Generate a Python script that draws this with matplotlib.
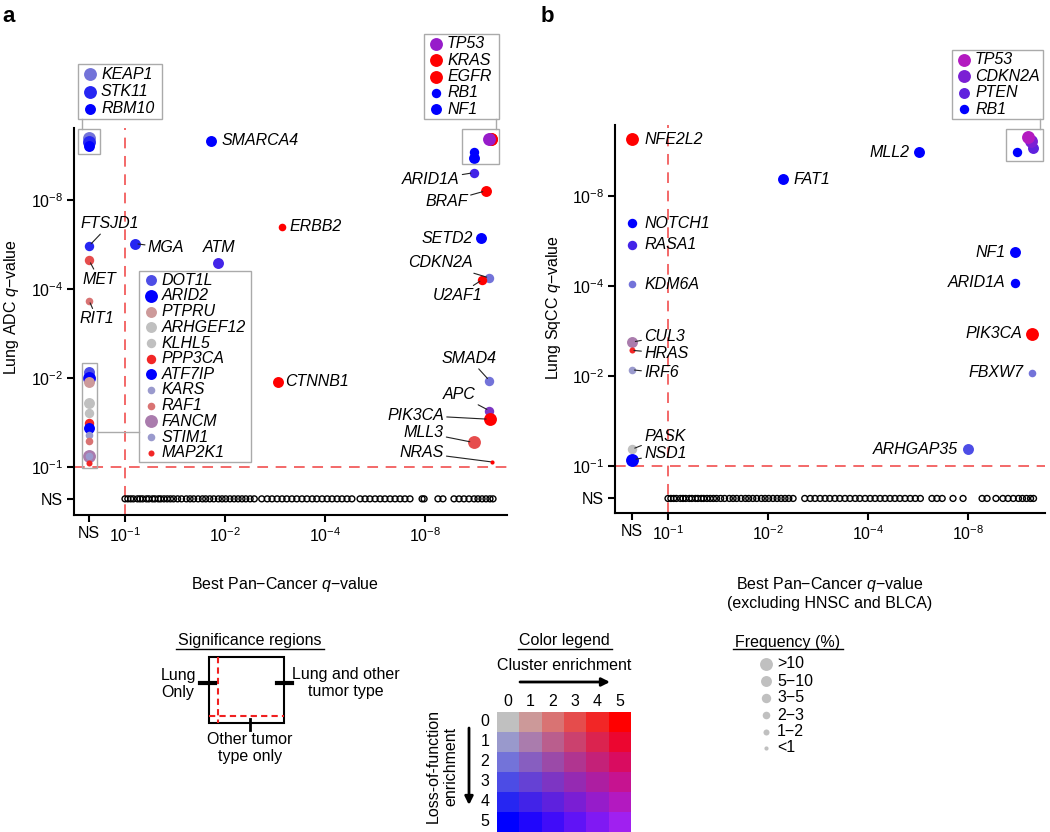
import numpy as np
import matplotlib
matplotlib.use('Agg')
import matplotlib.pyplot as plt
from matplotlib.patches import Rectangle
from matplotlib.ticker import NullLocator

plt.rcParams['font.family'] = ['Liberation Sans', 'DejaVu Sans']
plt.rcParams['mathtext.fontset'] = 'custom'
plt.rcParams['mathtext.rm'] = 'Liberation Sans'
plt.rcParams['mathtext.it'] = 'Liberation Sans:italic'
plt.rcParams['mathtext.bf'] = 'Liberation Sans:bold'

# values are -log10(q); NS = not significant (drawn left of / below 10^-1)
NS = 0.78

# ---- panel a : lung adenocarcinoma ----
a_gene = ['KEAP1', 'STK11', 'RBM10', 'SMARCA4', 'KRAS', 'EGFR', 'TP53', 'RB1', 'NF1',
          'ARID1A', 'BRAF', 'ERBB2', 'FTSJD1', 'MGA', 'SETD2', 'MET', 'ATM', 'CDKN2A',
          'U2AF1', 'RIT1', 'CTNNB1', 'SMAD4', 'APC', 'PIK3CA', 'MLL3', 'NRAS',
          'DOT1L', 'ARID2', 'PTPRU', 'ARHGEF12', 'KLHL5', 'PPP3CA', 'ATF7IP', 'KARS',
          'RAF1', 'FANCM', 'STIM1', 'MAP2K1']
a_x = [NS, NS, NS, 1.82, 12.6, 12.6, 12.5, 11.2, 11.2,
       11.2, 12.2, 2.97, NS, 1.07, 11.8, NS, 1.9, 12.5,
       11.9, NS, 2.89, 12.5, 12.5, 12.55, 11.2, 12.7,
       NS, NS, NS, NS, NS, NS, NS, NS, NS, NS, NS, NS]
a_y = [13.0, 12.6, 12.2, 12.7, 12.9, 12.9, 12.9, 11.6, 11.1,
       9.9, 8.6, 6.5, 5.6, 5.7, 5.95, 5.0, 4.9, 4.36,
       4.3, 3.65, 1.94, 1.96, 1.55, 1.45, 1.21, 1.04,
       2.1, 2.0, 1.94, 1.65, 1.52, 1.41, 1.35, 1.28, 1.22, 1.09, 1.09, 1.03]
a_clu = [0, 0, 0, 0, 5, 5, 4, 0, 0,
         1, 5, 5, 0, 0, 0, 3, 1, 0,
         5, 2, 5, 0, 2, 5, 3, 5,
         0, 0, 1, 0, 0, 4, 0, 0, 2, 1, 0, 4]
a_lof = [2, 4, 5, 5, 0, 0, 4, 5, 5,
         4, 0, 0, 4, 4, 5, 0, 4, 2,
         0, 0, 0, 2, 3, 0, 0, 0,
         3, 5, 0, 0, 0, 0, 5, 1, 0, 1, 1, 0]
a_freq = [5, 5, 4, 4, 5, 5, 5, 3, 4,
          3, 4, 2, 3, 4, 4, 3, 4, 3,
          3, 2, 4, 3, 3, 5, 5, 0,
          4, 5, 4, 4, 3, 3, 4, 2, 2, 5, 2, 1]
a_ns = [1.00, 1.02, 1.04, 1.06, 1.09, 1.11, 1.13, 1.16, 1.18, 1.21, 1.23, 1.26, 1.28,
        1.31, 1.34, 1.37, 1.40, 1.44, 1.48, 1.53, 1.57, 1.61, 1.66, 1.71, 1.75, 1.80,
        1.85, 1.91, 1.96, 2.01, 2.07, 2.13, 2.19, 2.25, 2.31, 2.38, 2.45,
        2.58, 2.68, 2.77, 2.87, 2.97, 3.07, 3.18, 3.29, 3.41, 3.53, 3.66, 3.78, 3.92,
        4.06, 4.20, 4.35, 4.50, 4.66, 4.82,
        5.10, 5.28, 5.46, 5.66, 5.86, 6.06, 6.28, 6.50, 6.73, 6.96, 7.21,
        7.84, 7.95, 8.75, 9.06,
        9.78, 10.13, 10.48, 10.85, 11.24, 11.55, 11.88, 12.21, 12.55, 12.82]

# label offsets (pixels), alignment, leader line
a_lab = {'SMARCA4': (10, 0, 'left', False), 'ERBB2': (7, 0, 'left', False),
         'FTSJD1': (21, 22, 'center', True), 'MET': (10, -19, 'center', True),
         'MGA': (13, -4, 'left', True), 'ATM': (2, 15, 'center', False),
         'RIT1': (8, -18, 'center', True), 'CTNNB1': (7, 0, 'left', False),
         'ARID1A': (-14, -7, 'right', True), 'BRAF': (-18, -11, 'right', True),
         'SETD2': (-8, 0, 'right', False), 'CDKN2A': (-17, 15, 'right', True),
         'U2AF1': (-25, -16, 'center', True), 'SMAD4': (-20, 22, 'center', True),
         'APC': (-14, 16, 'right', True), 'PIK3CA': (-46, 4, 'right', True),
         'MLL3': (-30, 10, 'right', True), 'NRAS': (-48, 9, 'right', True)}

# ---- panel b : lung squamous ----
b_gene = ['NFE2L2', 'MLL2', 'FAT1', 'RB1', 'PTEN', 'CDKN2A', 'TP53', 'NOTCH1', 'RASA1',
          'KDM6A', 'NF1', 'ARID1A', 'PIK3CA', 'FBXW7', 'CUL3', 'HRAS', 'IRF6', 'PASK',
          'NSD1', 'ARHGAP35']
b_x = [NS, 5.7, 2.22, 11.2, 12.55, 12.4, 12.1, NS, NS,
       NS, 11.1, 11.1, 12.5, 12.5, NS, NS, NS, NS, NS, 8.0]
b_y = [12.4, 11.2, 9.1, 11.2, 11.6, 12.2, 12.6, 6.5, 5.5,
       4.06, 5.2, 4.1, 2.77, 2.05, 2.6, 2.44, 2.1, 1.14, 1.05, 1.14]
b_clu = [5, 0, 0, 0, 2, 3, 5, 0, 1, 0, 0, 0, 5, 0, 1, 4, 0, 0, 0, 0]
b_lof = [0, 5, 5, 5, 4, 4, 4, 5, 4, 2, 5, 5, 0, 2, 1, 0, 1, 0, 5, 3]
b_freq = [5, 4, 4, 3, 4, 5, 5, 3, 3, 2, 4, 3, 5, 2, 4, 1, 2, 3, 5, 4]
b_ns = [1.00, 1.02, 1.04, 1.06, 1.09, 1.11, 1.13, 1.16, 1.18, 1.21, 1.23, 1.26, 1.28,
        1.31, 1.34, 1.37, 1.40, 1.44, 1.48, 1.53, 1.57, 1.61, 1.66, 1.71, 1.75, 1.80,
        1.85, 1.91, 1.96, 2.01, 2.07, 2.13, 2.19, 2.25, 2.31, 2.38,
        2.58, 2.68, 2.77, 2.87, 2.97, 3.07, 3.18, 3.29, 3.41, 3.53, 3.66, 3.78, 3.92,
        4.06, 4.20, 4.35, 4.50, 4.66, 4.82,
        4.99, 5.17, 5.36, 5.55, 5.75, 6.23, 6.45, 6.69, 7.21, 7.73,
        8.82, 9.13, 9.71, 10.19, 10.56, 10.95, 11.35, 11.67, 12.0, 12.34, 12.6]
b_lab = {'NFE2L2': (12, 0, 'left', False), 'MLL2': (-10, 0, 'right', False),
         'FAT1': (10, 0, 'left', False), 'NOTCH1': (12, 0, 'left', False),
         'RASA1': (12, 0, 'left', False), 'KDM6A': (12, 0, 'left', False),
         'NF1': (-10, 0, 'right', False), 'ARID1A': (-10, 0, 'right', False),
         'PIK3CA': (-10, 0, 'right', False), 'FBXW7': (-9, 0, 'right', False),
         'ARHGAP35': (-10, 0, 'right', False), 'CUL3': (12, 6, 'left', True),
         'HRAS': (12, -3, 'left', True), 'IRF6': (12, -3, 'left', True),
         'PASK': (12, 13, 'left', True), 'NSD1': (12, 6, 'left', True)}

tick_pos = [NS, 1, 2, 4, 8]
tick_lab = ['NS', '$10^{-1}$', '$10^{-2}$', '$10^{-4}$', '$10^{-8}$']

freq_lab = ['<1', '1\u22122', '2\u22123', '3\u22125', '5\u221210', '>10']
FREQ_S = [9, 19, 30, 46, 62, 86]

GRAY = np.array([192, 192, 192])
RED = np.array([255, 0, 0])
BLUE = np.array([0, 0, 255])
PURPLE = np.array([160, 32, 240])


def mix(c, l):
    t, u = c / 5, l / 5
    top = (1 - t) * GRAY + t * RED
    bot = (1 - t) * BLUE + t * PURPLE
    return tuple(((1 - u) * top + u * bot) / 255)


fig = plt.figure(figsize=(10.5, 8.32), dpi=100)
axa = fig.add_axes([74 / 1050, 1 - 515 / 832, 433 / 1050, 387 / 832])
axb = fig.add_axes([615 / 1050, 1 - 513 / 832, 430 / 1050, 388 / 832])


def panel(ax, gene, x, y, clu, lof, freq, ns, lab, xlim, ylim):
    ax.set_xscale('log', base=2)
    ax.set_yscale('log', base=2)
    ax.axvline(1, color='#f04040', lw=1.1, ls=(0, (7, 5)), zorder=1)
    ax.axhline(1, color='#f04040', lw=1.1, ls=(0, (7, 5)), zorder=1)
    ax.scatter(ns, [NS] * len(ns), s=18, facecolors='none', edgecolors='k', lw=1.0, zorder=2)
    for i in range(len(gene)):
        ax.scatter(x[i], y[i], s=FREQ_S[freq[i]], color=mix(clu[i], lof[i]), lw=0, zorder=3)
    for name, (dx, dy, ha, line) in lab.items():
        i = gene.index(name)
        ap = None
        if line:
            ap = dict(arrowstyle='-', lw=0.8, color='#222222', shrinkA=0,
                      shrinkB=np.sqrt(FREQ_S[freq[i]]) * 0.3)
        ax.annotate(name, xy=(x[i], y[i]), xytext=(dx, dy), textcoords='offset pixels',
                    ha=ha, va='center', fontsize=11.5, style='italic', arrowprops=ap, zorder=4)
    ax.set_xlim(2 ** xlim[0], 2 ** xlim[1])
    ax.set_ylim(2 ** ylim[0], 2 ** ylim[1])
    ax.set_xticks(tick_pos, tick_lab)
    ax.set_yticks(tick_pos, tick_lab)
    ax.xaxis.set_minor_locator(NullLocator())
    ax.yaxis.set_minor_locator(NullLocator())
    for s in ['top', 'right']:
        ax.spines[s].set_visible(False)
    for s in ['left', 'bottom']:
        ax.spines[s].set_linewidth(1.5)
    ax.tick_params(length=5, width=1.5, labelsize=11.5, pad=3)


def group_box(ax, gene, x, y, names, padx, pady):
    lx = [np.log2(x[gene.index(n)]) for n in names]
    ly = [np.log2(y[gene.index(n)]) for n in names]
    x0, x1 = 2 ** (min(lx) - padx[0]), 2 ** (max(lx) + padx[1])
    y0, y1 = 2 ** (min(ly) - pady[0]), 2 ** (max(ly) + pady[1])
    ax.add_patch(Rectangle((x0, y0), x1 - x0, y1 - y0, fill=False, ec='#aaaaaa', lw=1,
                           clip_on=False, zorder=5))


panel(axa, a_gene, a_x, a_y, a_clu, a_lof, a_freq, a_ns, a_lab, (-0.51, 3.82), (-0.54, 3.81))
panel(axb, b_gene, b_x, b_y, b_clu, b_lof, b_freq, b_ns, b_lab, (-0.53, 3.77), (-0.52, 3.79))

axa.set_ylabel('Lung ADC $q$\u2212value', fontsize=11.5)
axa.yaxis.set_label_coords(-0.122, 0.537)
axa.set_xlabel('Best Pan\u2212Cancer $q$\u2212value', fontsize=11.5)
axa.xaxis.set_label_coords(0.487, -0.155)
axb.set_ylabel('Lung SqCC $q$\u2212value', fontsize=11.5)
axb.yaxis.set_label_coords(-0.122, 0.53)
axb.set_xlabel('Best Pan\u2212Cancer $q$\u2212value\n(excluding HNSC and BLCA)', fontsize=11.5)
axb.xaxis.set_label_coords(0.5, -0.16)

a_grp1 = ['KEAP1', 'STK11', 'RBM10']
a_grp2 = ['TP53', 'KRAS', 'EGFR', 'RB1', 'NF1']
a_grp3 = ['DOT1L', 'ARID2', 'PTPRU', 'ARHGEF12', 'KLHL5', 'PPP3CA', 'ATF7IP', 'KARS',
          'RAF1', 'FANCM', 'STIM1', 'MAP2K1']
b_grp1 = ['TP53', 'CDKN2A', 'PTEN', 'RB1']
group_box(axa, a_gene, a_x, a_y, a_grp1, (0.11, 0.11), (0.09, 0.10))
group_box(axa, a_gene, a_x, a_y, a_grp2, (0.115, 0.085), (0.07, 0.11))
group_box(axa, a_gene, a_x, a_y, a_grp3, (0.075, 0.075), (0.053, 0.10))
group_box(axb, b_gene, b_x, b_y, b_grp1, (0.105, 0.10), (0.095, 0.085))

# overlay in pixel coordinates for boxes legends and the bottom keys
ov = fig.add_axes([0, 0, 1, 1], zorder=10)
ov.patch.set_visible(False)
ov.set_autoscale_on(False)
ov.set_xlim(0, 1050)
ov.set_ylim(832, 0)
ov.axis('off')


def group_legend(names, gene, clu, lof, freq, box):
    x0, y0, x1, y1 = box
    pitch = (y1 - y0 - 3) / len(names)
    ov.add_patch(Rectangle((x0, y0), x1 - x0, y1 - y0, fill=False, ec='#aaaaaa', lw=1))
    for k, n in enumerate(names):
        i = gene.index(n)
        yy = y0 + 1.5 + pitch * (k + 0.5)
        ov.scatter(x0 + 12, yy, s=FREQ_S[freq[i]], color=mix(clu[i], lof[i]), lw=0)
        ov.text(x0 + 23, yy, n, fontsize=11.5, style='italic', va='center', ha='left')


group_legend(a_grp1, a_gene, a_clu, a_lof, a_freq, (78, 64, 162, 119))
group_legend(a_grp2, a_gene, a_clu, a_lof, a_freq, (424, 34, 499, 119))
group_legend(a_grp3, a_gene, a_clu, a_lof, a_freq, (139, 271, 251, 462))
group_legend(b_grp1, b_gene, b_clu, b_lof, b_freq, (952, 50, 1043, 119))
for (xa, ya, xb, yb) in [(82, 119, 82, 129), (496, 119, 496, 129),
                         (97, 432, 139, 432), (1040, 119, 1040, 129)]:
    ov.plot([xa, xb], [ya, yb], color='#aaaaaa', lw=1)

ov.text(2, 22, 'a', fontsize=16, fontweight='bold')
ov.text(541, 22, 'b', fontsize=16, fontweight='bold')

# significance regions key
ov.text(250, 641, 'Significance regions', fontsize=11.5, ha='center', va='center')
ov.plot([176, 324], [649, 649], color='k', lw=1)
ov.add_patch(Rectangle((209, 657), 75, 66, fill=False, ec='k', lw=1.5))
ov.plot([218, 218], [657, 723], color='#f02020', lw=1.5, ls=(0, (3, 2)))
ov.plot([209, 284], [716, 716], color='#f02020', lw=1.5, ls=(0, (3, 2)))
ov.plot([200, 215], [683, 683], color='k', lw=3)
ov.plot([277, 292], [683, 683], color='k', lw=3)
ov.plot([250, 250], [719, 730], color='k', lw=2)
ov.text(178, 684, 'Lung\nOnly', fontsize=11.5, ha='center', va='center', linespacing=1.15)
ov.text(346, 683, 'Lung and other\ntumor type', fontsize=11.5, ha='center', va='center',
        linespacing=1.15)
ov.text(250, 748, 'Other tumor\ntype only', fontsize=11.5, ha='center', va='center',
        linespacing=1.15)

# color key
ov.text(564, 641, 'Color legend', fontsize=11.5, ha='center', va='center')
ov.plot([518, 612], [649, 649], color='k', lw=1)
ov.text(564, 666, 'Cluster enrichment', fontsize=11.5, ha='center', va='center')
ov.annotate('', xy=(610, 682), xytext=(520, 682),
            arrowprops=dict(arrowstyle='-|>', lw=2, color='k', mutation_scale=12,
                            shrinkA=0, shrinkB=0))
ov.annotate('', xy=(469, 805), xytext=(469, 728),
            arrowprops=dict(arrowstyle='-|>', lw=2, color='k', mutation_scale=12,
                            shrinkA=0, shrinkB=0))
grid = np.array([[mix(c, l) for c in range(6)] for l in range(6)])
ov.imshow(grid, extent=(497, 631, 832, 712), aspect='auto', interpolation='nearest')
for k in range(6):
    ov.text(508 + 22.4 * k, 701, str(k), fontsize=11.5, ha='center', va='center')
    ov.text(485, 722 + 20 * k, str(k), fontsize=11.5, ha='center', va='center')
ov.text(442, 766, 'Loss-of-function\nenrichment', fontsize=11.5, ha='center', va='center',
        rotation=90, linespacing=1.15)

# frequency key
ov.text(788, 642, 'Frequency (%)', fontsize=11.5, ha='center', va='center')
ov.plot([733, 843], [649, 649], color='k', lw=1)
for k, fy in enumerate([664, 681, 698, 715, 732, 748]):
    f = 5 - k
    ov.scatter(766, fy, s=FREQ_S[f], color='#c0c0c0', lw=0)
    ov.text(777, fy, freq_lab[f], fontsize=11.5, ha='left', va='center')

ov.set_xlim(0, 1050)
ov.set_ylim(832, 0)
fig.savefig('out.png', dpi=100)
